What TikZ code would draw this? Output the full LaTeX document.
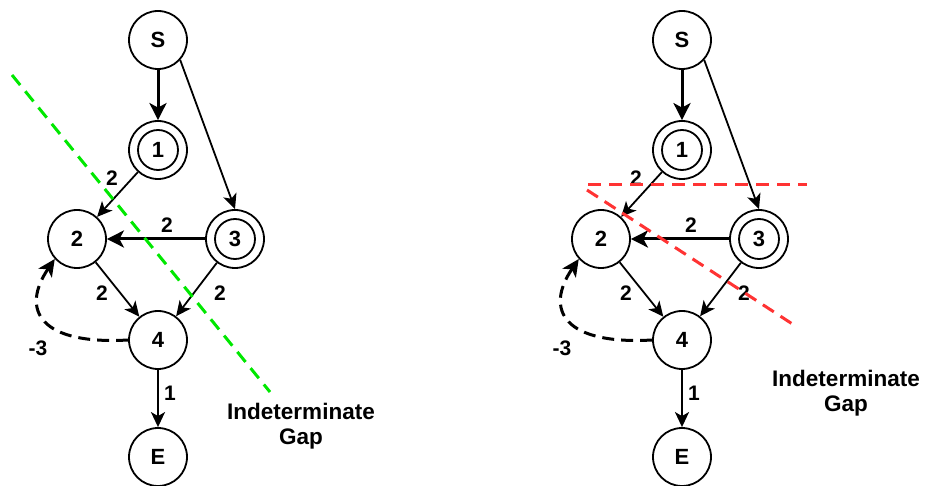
\documentclass[tikz,border=0pt]{standalone}
\usepackage{fontspec}
\setmainfont{Liberation Sans}
\usetikzlibrary{arrows.meta}
\definecolor{gapgreen}{RGB}{0,232,0}
\definecolor{gapred}{RGB}{255,51,51}

\begin{document}
\begin{tikzpicture}[x=1pt,y=-1pt,
  vtx/.style={circle,draw,line width=1.8pt,minimum size=58pt,inner sep=0pt,
    font=\fontsize{22}{22}\selectfont\bfseries},
  ring/.style={line width=1.8pt},
  lbl/.style={font=\fontsize{21}{21}\selectfont\bfseries,inner sep=0pt},
  thinarr/.style={line width=1.8pt,-{Stealth[length=15pt,width=14pt,inset=4pt]}},
  thickarr/.style={line width=3pt,-{Stealth[length=17pt,width=17pt,inset=4.5pt]}},
  backarr/.style={line width=3pt,dash pattern=on 12pt off 7pt,
    -{Stealth[length=17pt,width=16pt,inset=4.5pt]}},
  gapline/.style={line width=3pt,dash pattern=on 13pt off 8pt},
  gaptext/.style={font=\fontsize{22.5}{25}\selectfont\bfseries,align=center,inner sep=0pt}]
\useasboundingbox (0,0) rectangle (927,486);

% the same graph, drawn twice side by side
\foreach \dx/\g in {0/a,524/b}{
  \begin{scope}[xshift=\dx pt]
    \node[vtx] (\g S) at (158,40)  {S};
    \node[vtx] (\g 1) at (158,150) {1};
    \node[vtx] (\g 2) at (77,239)  {2};
    \node[vtx] (\g 3) at (235,239) {3};
    \node[vtx] (\g 4) at (158,340) {4};
    \node[vtx] (\g E) at (158,457) {E};
    \draw[ring] (\g 1.center) circle[radius=20];
    \draw[ring] (\g 3.center) circle[radius=20];

    \draw[thickarr] (\g S) -- (\g 1);
    \draw[thinarr] (\g S.-42) -- (\g 3.north);
    \draw[thinarr] (\g 1) -- (\g 2);
    \draw[thickarr] (\g 3) -- (\g 2);
    \draw[thinarr] (\g 2) -- (\g 4);
    \draw[thinarr] (\g 3) -- (\g 4);
    \draw[thinarr,line width=2.2pt] (\g 4) -- (\g E);
    \draw[backarr] (\g 4.west) .. controls (40,345) and (20,310) .. (\g 2.-138);

    \node[lbl] (\g w12) at (112,178) {2};
    \node[lbl] (\g w32) at (167,225) {2};
    \node[lbl] (\g w24) at (102,293) {2};
    \node[lbl] (\g w34) at (220,293) {2};
    \node[lbl] (\g w4E) at (170,393) {1};
    \node[lbl] (\g w42) at (38,348)  {-3};
  \end{scope}
}

% cut lines
\coordinate (ga1) at (12,75);
\coordinate (ga2) at (270,392);
\draw[gapline,gapgreen] (ga1) -- (ga2);
\coordinate (gb1) at (588,185);
\coordinate (gb2) at (807,185);
\coordinate (gb3) at (587,190);
\coordinate (gb4) at (797,327);
\draw[gapline,gapred] (gb1) -- (gb2);
\draw[gapline,gapred] (gb3) -- (gb4);

\node[gaptext] (gapA) at (301,426) {Indeterminate\\Gap};
\node[gaptext] (gapB) at (846,393) {Indeterminate\\Gap};
\end{tikzpicture}
\end{document}
